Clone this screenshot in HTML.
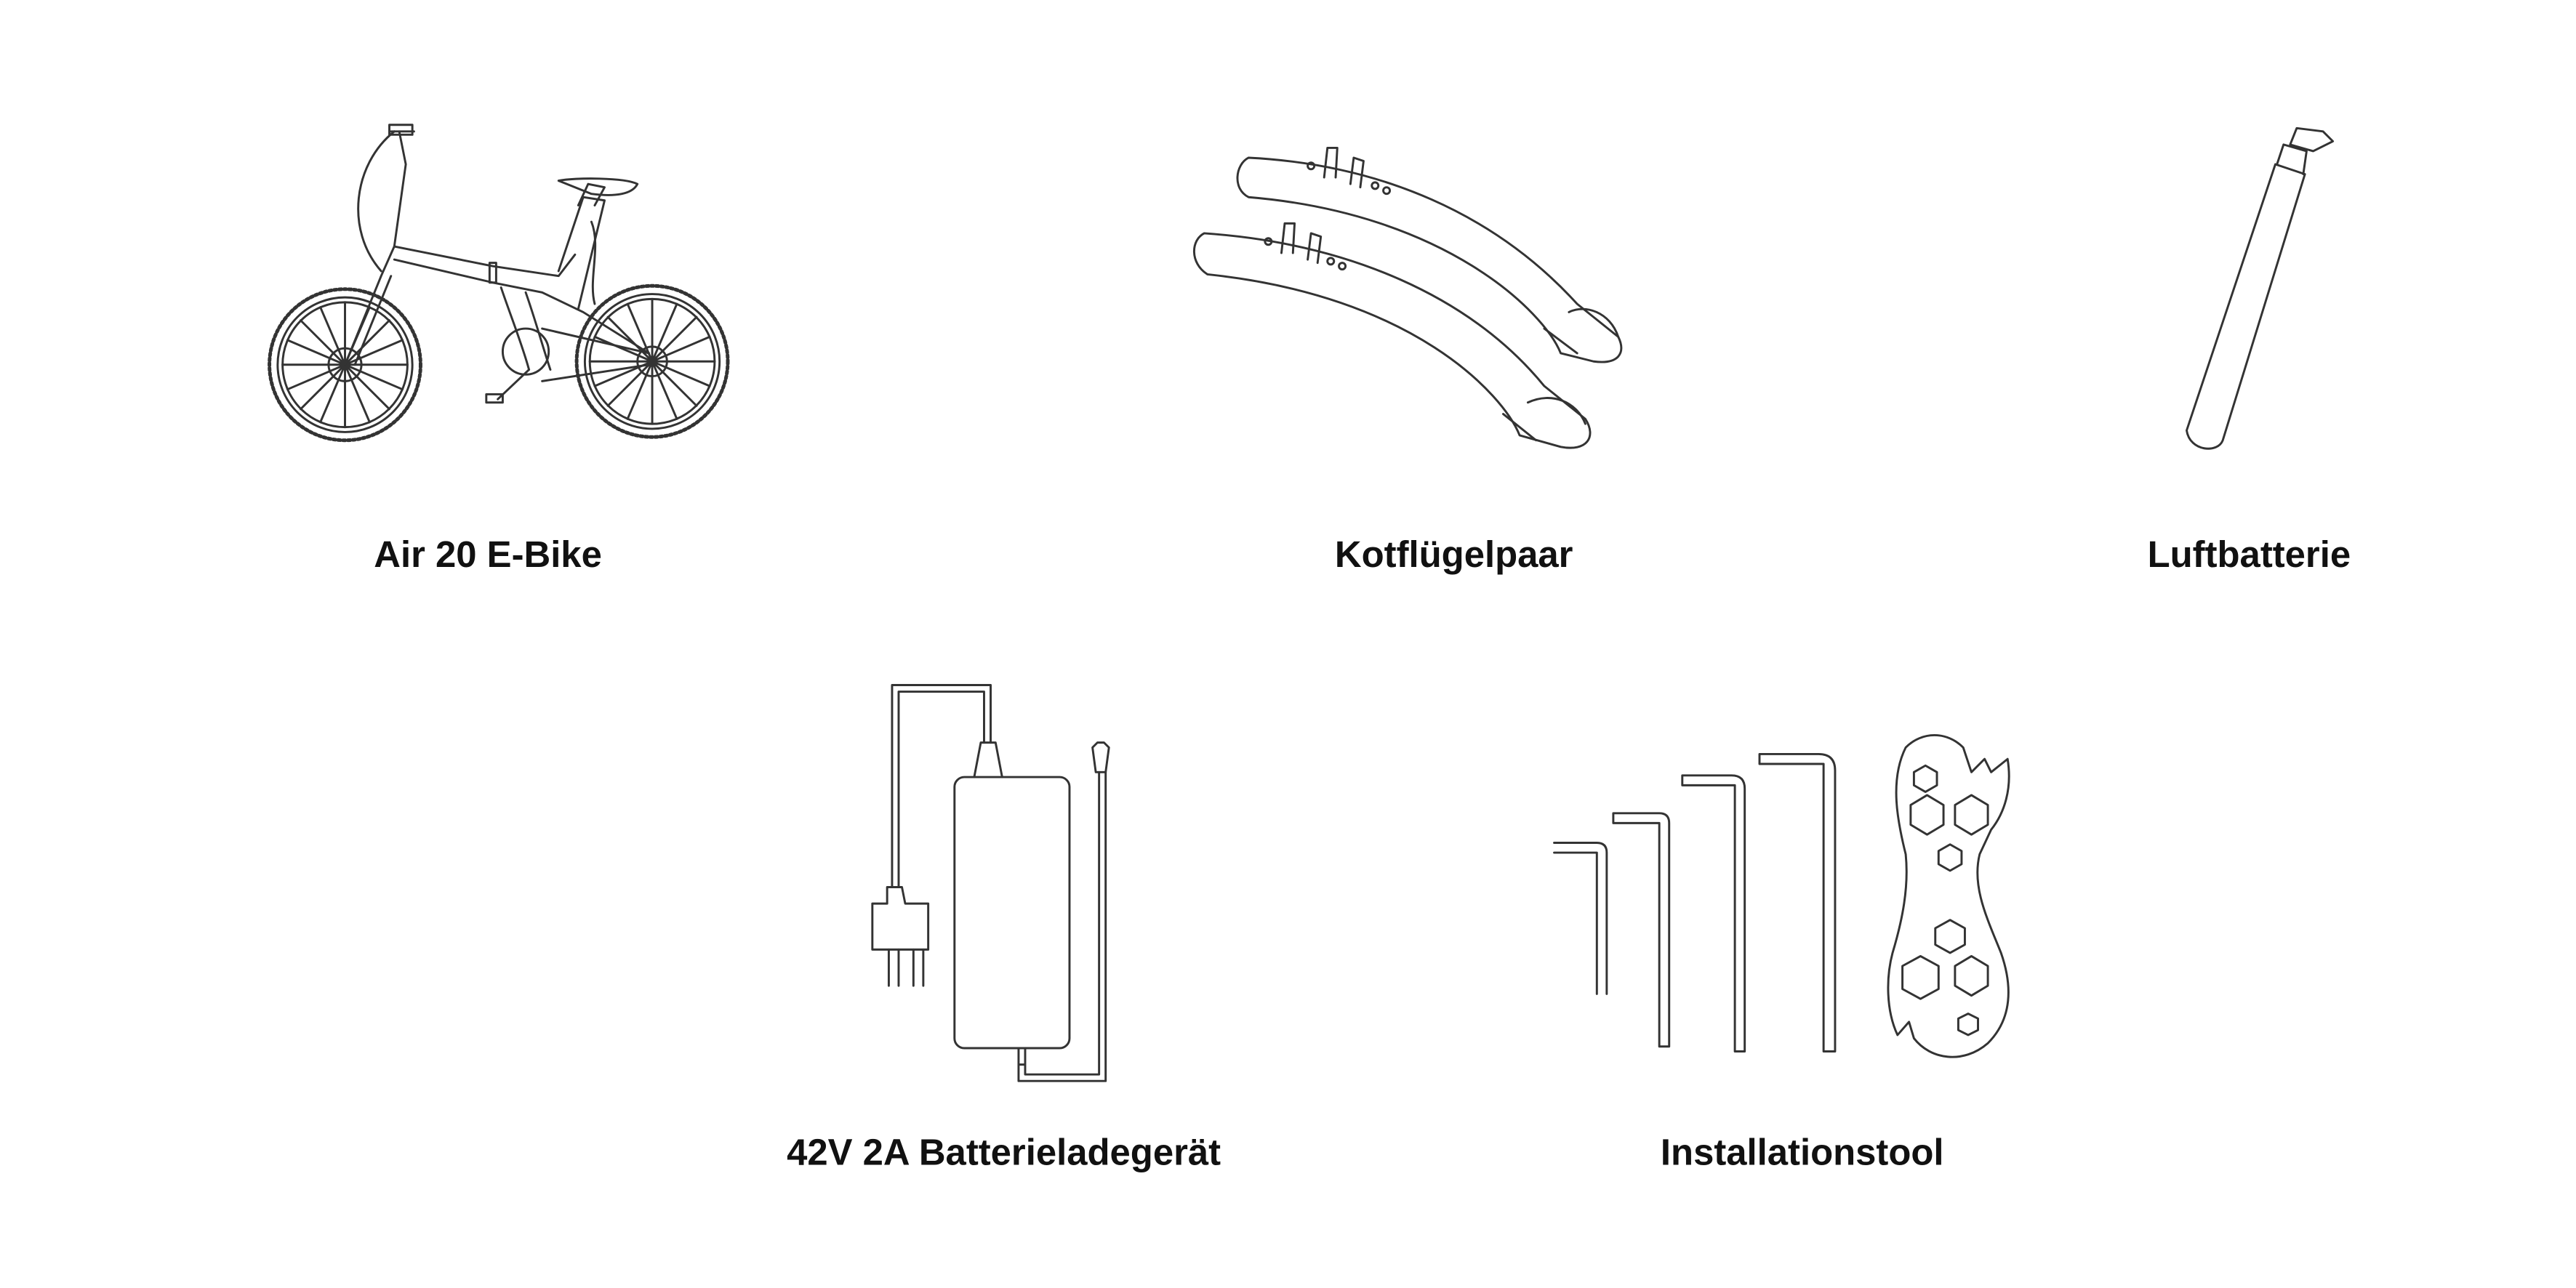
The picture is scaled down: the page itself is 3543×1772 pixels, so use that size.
<!DOCTYPE html>
<html><head><meta charset="utf-8"><style>
html,body{margin:0;padding:0;background:#fff;}
svg{display:block;}
text{font-family:"Liberation Sans",sans-serif;font-weight:bold;font-size:22.5px;fill:#111;}
.l{fill:none;stroke:#333;stroke-width:1.3;stroke-linecap:round;stroke-linejoin:round;}
.t{fill:none;stroke:#333;stroke-width:2.2;}
</style></head><body>
<svg width="3543" height="1772" viewBox="0 0 1568 784" preserveAspectRatio="none" xmlns="http://www.w3.org/2000/svg">
<rect width="1568" height="784" fill="#fff"/>
<!-- Bike -->
<g class="l">
  <circle cx="210" cy="222" r="46" class="t" stroke-dasharray="1.5 1.5" stroke-width="4"/>
  <circle cx="210" cy="222" r="41"/>
  <circle cx="210" cy="222" r="38"/>
  <circle cx="397" cy="220" r="46" class="t" stroke-dasharray="1.5 1.5" stroke-width="4"/>
  <circle cx="397" cy="220" r="41"/>
  <circle cx="397" cy="220" r="38"/>
  <path d="M172 222H248M210 184V260M183 195L237 249M237 195L183 249M175 207L245 237M175 237L245 207M195 187L225 257M225 187L195 257"/>
  <path d="M359 220H435M397 182V258M370 193L424 247M424 193L370 247M362 205L432 235M362 235L432 205M382 185L412 255M412 185L382 255"/>
  <circle cx="210" cy="222" r="10"/><circle cx="397" cy="220" r="9"/>
  <path d="M210 222L232 168L240 150L247 100L243 80M216 222L238 168"/>
  <path d="M238 80H252M237 76h14v6h-14z"/>
  <path d="M240 80C215 100 210 140 232 165"/>
  <path d="M240 150L300 162L340 168L350 155M240 158L300 172L330 178L355 190L395 215"/>
  <path d="M305 175C310 190 318 210 322 225M320 178C326 195 330 210 335 225"/>
  <path d="M340 165L355 120L368 122L352 188"/>
  <path d="M352 125L358 112L368 114L362 125"/>
  <path d="M340 110C350 108 380 108 388 112C385 118 375 120 360 118Z"/>
  <path d="M360 135C366 150 358 170 362 185"/>
  <circle cx="320" cy="214" r="14"/>
  <path d="M322 225L303 243M296 240h10v5h-10z"/>
  <path d="M330 200L395 215M330 232L395 222"/>
  <path d="M298 160v12h4v-12z"/>
</g>
<!-- Fenders -->
<g class="l">
  <path d="M760 96C840 100 910 130 960 185L985 205C990 215 985 222 970 220L950 215C940 190 880 130 760 120C750 115 752 100 760 96Z"/>
  <path d="M955 190C965 185 980 190 985 205"/>
  <path d="M940 200L960 215"/>
  <path d="M733 142C820 148 895 180 940 235L965 255C972 266 966 275 950 272L925 265C915 240 860 180 735 167C724 160 725 146 733 142Z"/>
  <path d="M930 245C945 238 960 245 965 258"/>
  <path d="M915 252L935 268"/>
  <path d="M806 108l2-18 6 0-1 18M822 112l2-16 6 2-2 16"/>
  <circle cx="798" cy="101" r="2"/><circle cx="837" cy="113" r="2"/><circle cx="844" cy="116" r="2"/>
  <path d="M780 154l2-18 6 0-1 18M796 158l2-16 6 2-2 16"/>
  <circle cx="772" cy="147" r="2"/><circle cx="810" cy="159" r="2"/><circle cx="817" cy="162" r="2"/>
</g>
<!-- Pump -->
<g class="l">
  <path d="M1331 262L1385 100L1403 106L1353 268C1350 276 1333 275 1331 262Z"/>
  <path d="M1386 100L1390 88L1404 92L1402 106"/>
  <path d="M1398 78l16 2 6 6-12 6-14-4z"/>
</g>
<!-- Charger -->
<g class="l">
  <rect x="581" y="473" width="70" height="165" rx="6"/>
  <path d="M593 473L597 452H606L610 473"/>
  <path d="M599 452V421H547V540M603 452V417H543V540"/>
  <path d="M540 540h9l2 10h14v28h-34v-28h9z"/>
  <path d="M541 578v22M547 578v22M556 578v22M562 578v22"/>
  <path d="M620 638v10h4v-10M620 648v10h53V470M624 648v6h45V470"/>
  <path d="M667 470l-2-15 3-3h4l3 3-2 15z"/>
</g>
<!-- Hex keys -->
<g class="l">
  <path d="M946 513h26q6 0 6 6v86M946 519h26v86"/>
  <path d="M982 495h28q6 0 6 6v136h-6V501H982z"/>
  <path d="M1024 472h30q8 0 8 8v160h-6V478h-32z"/>
  <path d="M1071 459h36q10 0 10 10v171h-7V465h-39z"/>
</g>
<!-- Wrench -->
<g class="l">
  <path d="M1160 455C1170 445 1185 445 1195 455L1200 470L1208 462L1212 470L1222 462C1225 480 1220 495 1212 505L1205 520C1200 540 1210 560 1218 580C1225 600 1225 620 1210 635C1195 648 1175 645 1165 632L1162 622L1155 630C1148 615 1148 595 1152 580C1158 560 1162 540 1160 520C1155 500 1150 475 1160 455Z"/>
  <path d="M1165 470l7-4 7 4v8l-7 4-7-4z"/>
  <path d="M1163 490l10-6 10 6v12l-10 6-10-6z"/>
  <path d="M1190 490l10-6 10 6v12l-10 6-10-6z"/>
  <path d="M1180 518l7-4 7 4v8l-7 4-7-4z"/>
  <path d="M1178 565l9-5 9 5v10l-9 5-9-5z"/>
  <path d="M1158 588l11-6 11 6v14l-11 6-11-6z"/>
  <path d="M1190 588l10-6 10 6v12l-10 6-10-6z"/>
  <path d="M1192 620l6-3 6 3v7l-6 3-6-3z"/>
</g>
<!-- Labels -->
<text x="297" y="345" text-anchor="middle">Air 20 E-Bike</text>
<text x="885" y="345" text-anchor="middle">Kotflügelpaar</text>
<text x="1369" y="345" text-anchor="middle">Luftbatterie</text>
<text x="611" y="709" text-anchor="middle">42V 2A Batterieladegerät</text>
<text x="1097" y="709" text-anchor="middle">Installationstool</text>
</svg>
</body></html>
